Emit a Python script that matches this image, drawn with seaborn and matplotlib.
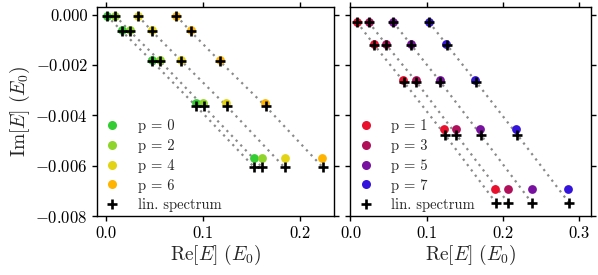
import numpy as np
import pandas as pd
import matplotlib
matplotlib.use('Agg')
import matplotlib.pyplot as plt
import seaborn as sns
from matplotlib.lines import Line2D

# left panel: even p
p_left = [0, 2, 4, 6]
re_left = [[0.0007, 0.0166, 0.0472, 0.093, 0.153],
           [0.0093, 0.0248, 0.0555, 0.100, 0.161],
           [0.0328, 0.0476, 0.0776, 0.124, 0.184],
           [0.0724, 0.0872, 0.117, 0.164, 0.223]]
im_left = [-0.00004, -0.00063, -0.0018, -0.00351, -0.00569]
re_lin_left = [[0.0007, 0.0166, 0.0472, 0.093, 0.153],
               [0.0093, 0.0248, 0.0555, 0.1005, 0.161],
               [0.0328, 0.0476, 0.0776, 0.1245, 0.184],
               [0.0724, 0.0872, 0.117, 0.1645, 0.2235]]
im_lin_left = [-0.00004, -0.00067, -0.00184, -0.00364, -0.00607]

# right panel: odd p
p_right = [1, 3, 5, 7]
re_right = [[0.0084, 0.0304, 0.069, 0.123, 0.190],
            [0.0238, 0.047, 0.0855, 0.139, 0.207],
            [0.056, 0.079, 0.117, 0.170, 0.239],
            [0.103, 0.126, 0.164, 0.218, 0.286]]
im_right = [-0.00029, -0.00116, -0.0026, -0.00453, -0.00693]
re_lin_right = [[0.0084, 0.031, 0.070, 0.124, 0.191],
                [0.0238, 0.047, 0.0865, 0.139, 0.207],
                [0.056, 0.0795, 0.118, 0.171, 0.238],
                [0.103, 0.1265, 0.165, 0.219, 0.287]]
im_lin_right = [-0.00029, -0.0012, -0.00267, -0.00477, -0.00747]

colors_left = ['#33cc33', '#8fd42a', '#e2d414', '#ffb400']
colors_right = ['#e8102c', '#b0105a', '#7810a0', '#3414dc']

sns.set_style('ticks')
plt.rcParams['font.family'] = 'serif'
plt.rcParams['font.serif'] = ['cmr10']
plt.rcParams['mathtext.fontset'] = 'cm'
plt.rcParams['axes.formatter.use_mathtext'] = True
plt.rcParams['xtick.top'] = True
plt.rcParams['ytick.right'] = True
plt.rcParams['xtick.direction'] = 'out'
plt.rcParams['ytick.direction'] = 'out'
plt.rcParams['axes.edgecolor'] = 'black'
plt.rcParams['xtick.color'] = 'black'
plt.rcParams['ytick.color'] = 'black'


def panel(ax, ps, re, im, re_lin, im_lin, colors):
    for k, p in enumerate(ps):
        d = pd.DataFrame({'x': re_lin[k], 'y': im_lin})
        sns.lineplot(data=d, x='x', y='y', sort=False, ax=ax, color='#8a8a8a',
                     linestyle=(0, (1, 2)), linewidth=1.6, zorder=1)
    for k, p in enumerate(ps):
        d = pd.DataFrame({'x': re[k], 'y': im})
        sns.scatterplot(data=d, x='x', y='y', ax=ax, color=colors[k], s=40,
                        linewidth=0, zorder=2)
    for k, p in enumerate(ps):
        d = pd.DataFrame({'x': re_lin[k], 'y': im_lin})
        sns.scatterplot(data=d, x='x', y='y', ax=ax, color='black', marker='+',
                        s=50, linewidth=1.9, zorder=3)
    handles = [Line2D([], [], marker='o', ls='none', color=c, markersize=6.5,
                      mew=0) for c in colors]
    handles.append(Line2D([], [], marker='+', ls='none', color='black',
                          markersize=7.5, mew=1.9))
    labels = ['p = %d' % p for p in ps] + ['lin. spectrum']
    ax.legend(handles, labels, loc='lower left', bbox_to_anchor=(-0.01, 0.0),
              frameon=False, fontsize=10.5, borderaxespad=0.0, borderpad=0.25,
              handlelength=1.9, handletextpad=0.8, labelspacing=0.4)
    ax.set_ylim(-0.008, 0.0003)
    ax.set_xlabel(r'$\mathrm{Re}[E]\ (E_0)$', fontsize=14, labelpad=1)
    ax.tick_params(labelsize=12, length=3.5, width=1.0)
    for s in ax.spines.values():
        s.set_linewidth(1.0)


fig = plt.figure(figsize=(5.98, 2.75), dpi=100)
ax1 = fig.add_axes([0.1627, 0.2145, 0.3958, 0.76])
ax2 = fig.add_axes([0.5861, 0.2145, 0.4017, 0.76])

panel(ax1, p_left, re_left, im_left, re_lin_left, im_lin_left, colors_left)
panel(ax2, p_right, re_right, im_right, re_lin_right, im_lin_right, colors_right)

ax1.set_xlim(-0.009, 0.235)
ax2.set_xlim(0.0, 0.3155)
ax1.set_xticks([0.0, 0.1, 0.2])
ax2.set_xticks([0.0, 0.1, 0.2, 0.3])
ax1.set_yticks([0.0, -0.002, -0.004, -0.006, -0.008])
ax2.set_yticks([0.0, -0.002, -0.004, -0.006, -0.008])
ax1.set_yticklabels(['0.000', '$-0.002$', '$-0.004$', '$-0.006$', '$-0.008$'])
ax1.set_xticklabels(['0.0', '0.1', '0.2'])
ax2.set_xticklabels(['0.0', '0.1', '0.2', '0.3'])
ax2.set_yticklabels([])
ax2.set_ylabel('')
ax1.set_ylabel(r'$\mathrm{Im}[E]\ (E_0)$', fontsize=14, labelpad=2)

fig.savefig('out.png', dpi=100)
